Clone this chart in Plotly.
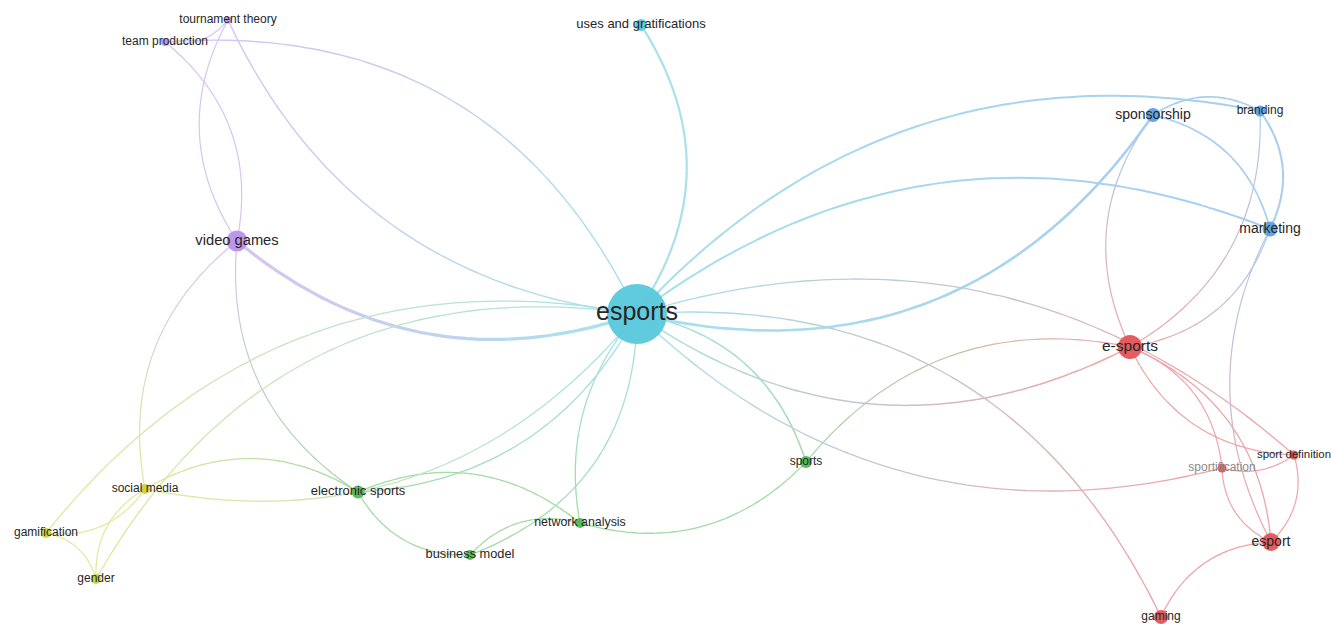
import numpy as np
import plotly.graph_objects as go

# ---------------- data ----------------
node_labels = ["esports", "uses and gratifications", "tournament theory", "team production",
               "video games", "sponsorship", "branding", "marketing", "e-sports",
               "sport definition", "sportification", "esport", "gaming", "sports",
               "network analysis", "business model", "electronic sports", "social media",
               "gamification", "gender"]
node_x = [637, 641, 228, 165, 237, 1153, 1260, 1270, 1130, 1294, 1222, 1271, 1161, 806,
          580, 470, 358, 145, 46, 96]
node_y = [314, 25, 20, 42, 241, 115, 111, 229, 347, 455, 468, 542, 617, 462,
          523, 555, 492, 489, 533, 579]
node_weight = [60, 12, 7, 8, 21, 14, 11, 15, 24, 9, 9, 18, 14, 12, 10, 10, 13, 10, 10, 10]
node_cluster = ["cyan", "cyan", "purple", "purple", "purple", "blue", "blue", "blue", "red",
                "red", "red", "red", "red", "green", "green", "green", "green", "yellow",
                "yellow", "yellow"]
label_size = [25, 13, 12, 12, 14.7, 14, 12, 14, 15.5, 11.4, 12, 14, 12, 12, 12.4, 12.8, 13,
              12, 12, 12]

edge_src = ["esports", "esports", "esports", "esports", "tournament theory", "esports",
            "video games", "esports", "network analysis", "sports", "esports", "esports",
            "esports", "esports", "e-sports", "e-sports", "e-sports", "sportification",
            "sportification", "sport definition", "gaming", "marketing", "marketing",
            "branding", "sponsorship", "sponsorship", "sponsorship", "branding",
            "electronic sports", "electronic sports", "electronic sports", "social media",
            "social media", "gamification", "video games", "video games",
            "tournament theory", "team production", "tournament theory", "gamification",
            "gender", "gender", "gamification", "business model", "business model",
            "network analysis"]
edge_tgt = ["uses and gratifications", "branding", "marketing", "sponsorship", "esports",
            "team production", "esports", "sports", "sports", "e-sports", "e-sports",
            "sport definition", "sportification", "gaming", "sport definition", "esport",
            "sportification", "esport", "sport definition", "esport", "esport", "esport",
            "e-sports", "e-sports", "e-sports", "branding", "marketing", "marketing",
            "business model", "network analysis", "esports", "esports", "electronic sports",
            "social media", "electronic sports", "social media", "video games",
            "video games", "team production", "gender", "social media", "esports",
            "esports", "network analysis", "esports", "esports"]
edge_width = [2.2, 2.0, 2.0, 2.6, 1.4, 1.4, 3.2, 1.5, 1.3, 1.2, 1.5, 1.3, 1.3, 1.4, 1.2,
              1.3, 1.2, 1.2, 1.2, 1.2, 1.3, 1.2, 1.2, 1.2, 1.2, 1.7, 1.7, 2.1, 1.3, 1.3,
              1.3, 1.3, 1.3, 1.2, 1.2, 1.2, 1.2, 1.2, 1.2, 1.2, 1.2, 1.3, 1.3, 1.3, 1.3, 1.3]
edge_bend = [0.165, -0.14, -0.14, 0.17, 0.14, 0.17, 0.14, -0.15, 0.15, -0.15, 0.15, -0.14,
             0.14, -0.17, 0.15, -0.15, -0.15, 0.15, 0.12, -0.15, -0.15, 0.13, -0.15, -0.15,
             0.15, -0.15, -0.15, -0.15, 0.15, -0.15, 0.14, 0.15, -0.15, 0.15, 0.15, 0.15,
             0.15, -0.15, -0.15, -0.15, -0.15, -0.17, -0.15, -0.15, 0.17, -0.12]

cluster_rgb = {"cyan": (84, 198, 218), "purple": (180, 140, 230), "blue": (90, 160, 225),
               "red": (225, 80, 85), "green": (76, 185, 80), "yellow": (200, 210, 60)}
node_rgb = {"cyan": (88, 200, 220), "purple": (185, 145, 232), "blue": (92, 160, 226),
            "red": (226, 84, 88), "green": (80, 185, 80), "yellow": (202, 210, 60)}

# ---------------- figure ----------------
idx = {n: i for i, n in enumerate(node_labels)}
fig = go.Figure()

EDGE_ALPHA = 0.52
NSEG = 10


def blend(c1, c2, t, a):
    r = [(1 - t) * c1[k] + t * c2[k] for k in range(3)]
    r = [a * v + (1 - a) * 255 for v in r]
    return "rgb(%d,%d,%d)" % tuple(int(round(v)) for v in r)


for s, t, w, c in zip(edge_src, edge_tgt, edge_width, edge_bend):
    i, j = idx[s], idx[t]
    x0, y0, x1, y1 = node_x[i], node_y[i], node_x[j], node_y[j]
    dx, dy = x1 - x0, y1 - y0
    cx = (x0 + x1) / 2 + 2 * c * (-dy)
    cy = (y0 + y1) / 2 + 2 * c * dx
    c1 = cluster_rgb[node_cluster[i]]
    c2 = cluster_rgb[node_cluster[j]]
    for k in range(NSEG):
        ts = np.linspace(k / NSEG, (k + 1) / NSEG, 6)
        bx = (1 - ts) ** 2 * x0 + 2 * (1 - ts) * ts * cx + ts ** 2 * x1
        by = (1 - ts) ** 2 * y0 + 2 * (1 - ts) * ts * cy + ts ** 2 * y1
        fig.add_trace(go.Scatter(
            x=bx, y=by, mode="lines", hoverinfo="skip", showlegend=False,
            line=dict(color=blend(c1, c2, (k + 0.5) / NSEG, EDGE_ALPHA), width=w,
                      shape="spline")))

marker_colors = ["rgb(%d,%d,%d)" % node_rgb[cl] for cl in node_cluster]
text_colors = ["#8a8a8a" if n == "sportification" else "#262626" for n in node_labels]

fig.add_trace(go.Scatter(
    x=node_x, y=node_y, mode="markers+text", text=node_labels,
    textposition="middle center", hoverinfo="text", showlegend=False, cliponaxis=False,
    marker=dict(size=node_weight, color=marker_colors, opacity=0.95, line=dict(width=0)),
    textfont=dict(family="Liberation Sans, Arial, sans-serif", size=label_size,
                  color=text_colors),
))

fig.update_layout(
    width=1331, height=624,
    margin=dict(l=0, r=0, t=0, b=0),
    paper_bgcolor="white", plot_bgcolor="white",
    xaxis=dict(range=[0, 1331], visible=False, showgrid=False, zeroline=False),
    yaxis=dict(range=[624, 0], visible=False, showgrid=False, zeroline=False),
)

fig.write_html("out.html",
               config={"displayModeBar": False},
               post_script="document.body.style.margin='0';"
                           "document.body.style.overflow='hidden';")
